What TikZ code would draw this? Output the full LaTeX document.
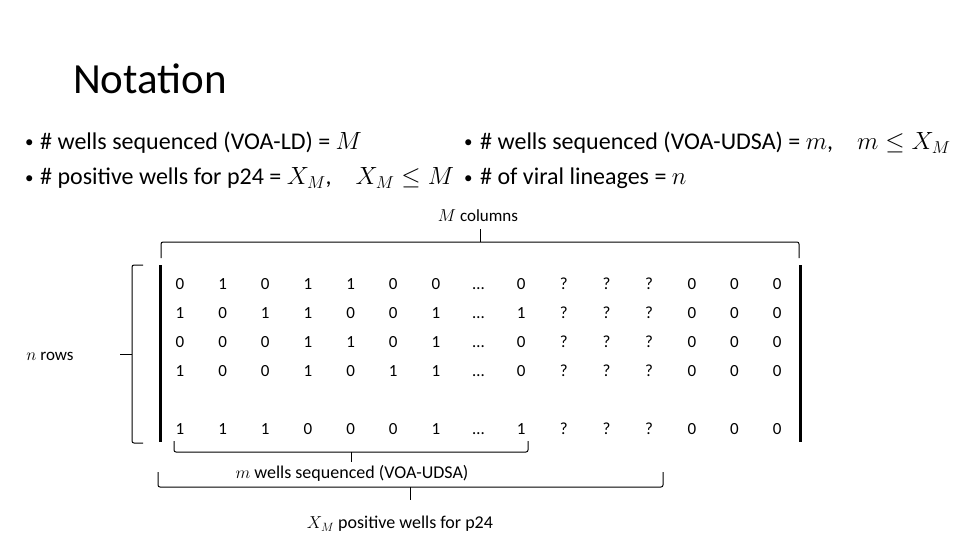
\documentclass[tikz,border=0pt]{standalone}
\usepackage{fontspec}
\setmainfont{Carlito}
\usepackage{amsmath}
\usetikzlibrary{positioning}

\begin{document}
\begin{tikzpicture}[x=1pt,y=-1pt,
  title/.style={font=\fontsize{43}{50}\selectfont, anchor=base west, inner sep=0pt},
  dot/.style={font=\fontsize{17}{20}\selectfont, anchor=base west, inner sep=0pt},
  bullet/.style={font=\fontsize{24}{28}\selectfont, anchor=base west, inner sep=0pt},
  cell/.style={font=\fontsize{17}{20}\selectfont, anchor=base, inner sep=0pt},
  lbl/.style={font=\fontsize{17}{20}\selectfont, inner sep=1pt},
  bracket/.style={line width=1pt, rounded corners=2pt},
  rail/.style={line width=3pt},
]
\useasboundingbox (0,0) rectangle (960,540);

\node[title] (ttl) at (73,94) {Notation};

% bullet points, two columns
\node[dot] (d1) at (25,148) {\textbullet};
\node[bullet] (b1) at (40,150) {\# wells sequenced (VOA-LD) = $M$};
\node[dot] (d2) at (25,183) {\textbullet};
\node[bullet] (b2) at (40,185) {\# positive wells for p24 = $X_M$,\quad $X_M \leq M$};
\node[dot] (d3) at (464,148) {\textbullet};
\node[bullet] (b3) at (480,150) {\# wells sequenced (VOA-UDSA) = $m$,\quad $m \leq X_M$};
\node[dot] (d4) at (464,183) {\textbullet};
\node[bullet] (b4) at (480,185) {\# of viral lineages = $n$};

% matrix of wells
\foreach \row/\y/\vals in {%
  1/289/{0,1,0,1,1,0,0,…,0,?,?,?,0,0,0},
  2/318/{1,0,1,1,0,0,1,…,1,?,?,?,0,0,0},
  3/347/{0,0,0,1,1,0,1,…,0,?,?,?,0,0,0},
  4/376/{1,0,0,1,0,1,1,…,0,?,?,?,0,0,0},
  5/434/{1,1,1,0,0,0,1,…,1,?,?,?,0,0,0}%
} {
  \foreach \v [count=\k] in \vals {
    \node[cell] (c\row-\k) at ({180+42.65*(\k-1)},\y) {\v};
  }
}
\draw[rail] (160,265) -- (160,442);
\draw[rail] (800,265) -- (800,442);

% M columns
\draw[bracket] (161,258) |- (480,242) -| (799,258);
\draw[bracket] (480,242) -- (480,229);
\node[lbl] (mcols) at (478,216) {$M$ columns};

% n rows
\draw[bracket] (143,265) -| (132,354) |- (143,443);
\draw[bracket] (132,354) -- (120,354);
\node[lbl] (nrows) at (50,356) {$n$ rows};

% m wells
\draw[bracket] (174,441) |- (351,452) -| (528,441);
\draw[bracket] (351,452) -- (351,462);
\node[lbl, font=\fontsize{18}{21}\selectfont] (mwells) at (352,473) {$m$ wells sequenced (VOA-UDSA)};

% X_M wells
\draw[bracket] (158,472) |- (410,487) -| (663,472);
\draw[bracket] (410,487) -- (410,500);
\node[lbl, font=\fontsize{18}{21}\selectfont] (xwells) at (400,524) {$X_M$ positive wells for p24};
\end{tikzpicture}
\end{document}
